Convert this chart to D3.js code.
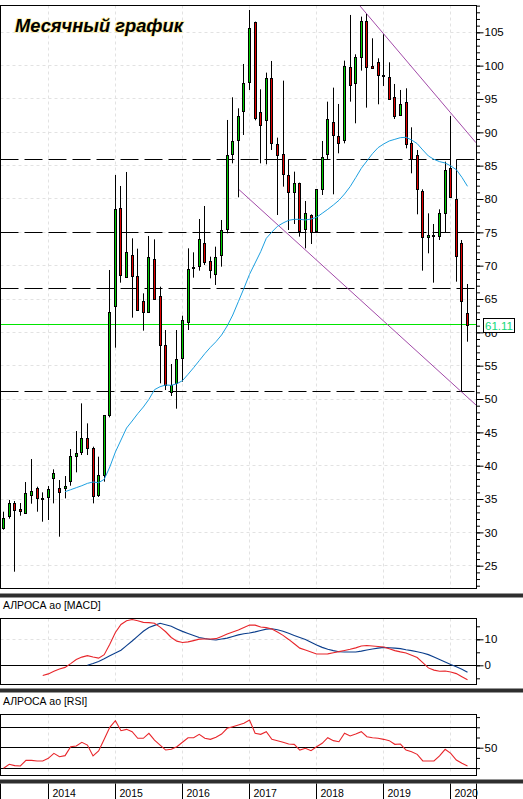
<!DOCTYPE html>
<html><head><meta charset="utf-8">
<script src="https://cdn.jsdelivr.net/npm/d3@7"></script>
<style>
body{margin:0;background:#fff}
svg{display:block}
text{font-family:"Liberation Sans",Arial,sans-serif}
</style>
</head><body>
<svg id="c" width="523" height="799"></svg>
<script>
// ---------- DATA ----------
const firstMonth = [2013, 4];           // May 2013
const yearLabels = ["2014","2015","2016","2017","2018","2019","2020"];
const openP = [30.55,32.35,34.45,33.45,32.95,35.5,36.6,35.15,35.35,38.05,36.6,36.7,37.65,41.35,42.0,44.1,42.65,35.5,38.5,47.5,
  63.95,78.6,68.25,71.55,68.4,64.65,63.0,70.95,65.45,58.05,51.05,52.35,56.1,61.6,69.6,69.85,73.35,70.65,68.7,71.55,
  75.45,86.75,88.85,93.1,97.45,106.5,93.0,91.75,98.1,88.2,86.7,83.6,81.05,82.35,75.45,77.6,75.1,81.45,86.7,91.5,
  89.45,88.85,99.85,97.5,101.35,106.75,99.95,100.5,98.55,98.25,95.25,92.55,94.5,88.35,86.6,81.2,74.25,74.55,74.35,77.85,
  84.6,79.95,73.35,62.95];
const highP = [33.1,34.85,34.7,34.4,37.55,41.0,36.85,36.0,36.95,39.45,37.85,38.45,42.5,45.2,49.35,46.35,42.85,41.35,47.6,69.35,
  83.6,81.95,84.05,74.1,72.55,65.85,74.45,73.95,66.85,60.35,55.25,60.35,62.5,72.6,72.0,77.0,78.95,71.35,72.85,76.85,
  91.85,95.25,93.6,100.25,108.35,106.6,96.45,98.95,100.7,89.2,97.75,85.95,84.1,82.45,79.7,77.7,81.5,88.7,94.6,96.7,
  94.25,100.75,107.6,101.7,107.35,107.75,104.1,101.1,104.7,100.5,97.25,96.35,96.6,90.75,87.35,81.45,77.85,76.25,78.45,85.6,
  92.45,85.95,73.85,67.25];
const lowP = [30.4,32.05,24.1,32.5,32.8,34.3,33.1,31.6,31.85,34.35,29.35,35.1,37.0,39.0,41.6,41.6,34.35,35.3,37.6,47.25,
  57.7,67.45,68.2,62.2,63.2,60.25,62.9,64.9,52.35,51.35,50.45,48.55,52.6,60.35,68.2,69.25,70.1,68.1,67.1,69.85,
  74.85,85.35,80.25,89.6,96.35,91.8,85.35,85.2,87.35,77.6,81.85,75.35,76.25,74.35,72.6,73.25,75.0,80.6,85.85,80.7,
  86.85,88.35,94.6,91.35,99.25,93.7,99.5,94.2,96.95,94.85,92.0,92.5,87.6,83.85,77.7,69.25,71.85,67.45,73.85,74.95,
  80.2,67.6,51.1,58.6];
const closeP = [32.1,34.35,33.45,33.1,35.95,36.15,35.05,35.0,36.55,38.85,36.05,37.0,41.4,41.85,44.1,42.6,35.5,38.55,47.55,63.0,
  78.45,68.5,72.0,68.4,63.3,63.0,71.25,64.95,58.05,52.1,52.1,55.95,61.85,69.5,69.8,73.95,70.5,69.35,71.25,75.35,
  86.6,88.65,92.4,97.35,105.6,92.1,91.0,98.1,88.35,86.55,83.7,81.1,82.35,75.1,77.85,75.0,81.45,86.25,91.95,89.5,
  88.35,99.95,97.2,101.35,106.75,99.85,99.6,98.5,98.35,95.0,92.35,94.2,88.25,85.95,81.45,74.25,74.6,74.65,77.85,84.35,
  80.25,71.35,64.6,61.2];
const maStart = 11;
const maVals = [36.1,36.4,36.7,37.0,37.35,37.55,37.45,37.95,39.8,42.05,43.85,45.65,46.7,47.8,48.8,49.95,51.4,51.85,52.1,52.05,
  52.3,52.75,53.7,54.7,55.75,56.8,57.75,58.6,59.6,60.95,62.6,64.6,66.6,68.7,70.4,72.1,74.1,75.05,75.9,76.4,
  76.8,76.95,76.95,76.85,77.0,77.25,77.85,78.45,79.1,79.8,80.75,81.85,83.2,84.6,85.7,86.8,87.7,88.25,88.7,88.95,
  89.2,89.25,88.85,88.3,87.35,86.45,85.95,85.6,85.4,84.95,84.4,83.25,81.9];
const macdStart = 7;
const macdVals = [-3.9,-3.3,-2.3,-1.4,-0.8,0.65,2.2,3.15,3.7,3.2,2.75,4.1,8.1,12.6,15.7,17.15,17.6,17.15,16.5,16.4,
  16.15,14.7,12.9,10.7,9.3,8.75,9.0,9.5,10.05,10.1,10.1,10.25,11.1,12.0,12.8,13.6,14.55,15.5,15.45,14.7,
  14.5,13.95,12.8,11.5,9.95,8.3,6.6,5.85,5.15,4.35,4.35,4.4,4.85,5.25,5.7,6.15,6.7,7.4,7.6,7.45,
  7.25,7.05,6.35,5.65,5.15,4.7,3.85,3.0,1.0,-1.0,-1.85,-2.3,-2.2,-2.6,-3.2,-4.4,-5.55];
const signalStart = 15;
const signalVals = [0.05,0.7,1.5,2.55,3.7,4.75,5.8,7.55,9.35,11.25,13.1,14.55,15.35,16.15,15.6,15.0,14.0,13.05,12.25,11.45,
  10.7,10.3,9.95,9.75,10.1,10.45,11.1,11.7,12.15,12.45,12.85,13.4,13.9,14.05,13.7,13.1,12.3,11.5,10.7,9.9,
  8.9,7.8,6.9,6.2,5.65,5.2,5.1,5.1,5.1,5.45,5.9,6.3,6.6,6.9,6.75,6.6,6.4,6.0,5.65,5.2,
  4.7,4.1,3.15,2.2,1.25,0.3,-0.55,-1.5,-2.7];
const rsiVals = [29.8,33.7,32.4,32.1,37.6,37.6,37.0,37.0,39.6,44.5,41.2,42.2,51.0,51.7,55.3,52.6,41.9,46.8,58.2,70.0,
  76.5,66.7,68.0,65.7,59.2,59.2,64.1,57.5,52.6,47.7,48.4,51.0,55.3,59.8,59.8,63.1,59.2,58.2,60.2,63.4,
  69.0,70.6,72.3,73.9,77.2,64.1,63.1,65.7,58.2,56.9,55.3,53.6,53.3,47.7,49.4,47.1,51.0,54.3,59.8,56.9,
  55.9,64.1,61.5,63.4,65.7,60.8,59.8,59.2,58.2,56.9,53.3,53.6,47.7,46.1,43.5,37.0,37.0,37.0,41.9,48.4,
  44.5,37.9,34.7,32.1];
const priceTicks = [25,30,35,40,45,50,55,60,65,70,75,80,85,90,95,100,105];
const levelLines = [85.95, 75.0, 66.6, 51.2];
const lastPrice = 61.11;
const trendUpper = [[63.77,108.94],[84.52,88.44]];
const trendLower = [[41.99,81.5],[84.52,49.1]];
const macdTicks = [-5,0,5,10,15], macdLabels = [0,10];
const rsiTicks = [30,40,50,60,70,80], rsiLevels = [30,50,70], rsiLabels = [50];

// ---------- LAYOUT ----------
const svg = d3.select("#c");
const W = 523, FL = 0.5, FR = 476.5;
const P = {t:5.5, b:588.5};
const M = {t:618.5, b:684.5};
const Rr = {t:714.5, b:775.5};
const n = closeP.length;
const months = d3.timeMonth.range(new Date(firstMonth[0], firstMonth[1], 1), new Date(firstMonth[0], firstMonth[1] + n, 1));
const janIdx = d3.range(n).filter(i => months[i].getMonth() === 0);

const x = d3.scaleLinear().domain([0, n - 1]).range([3.6, 467.5]);
const px = i => Math.floor(x(i)) + 0.5;
const yP = d3.scaleLinear().domain([25, 105]).range([565.7, 32.3]);
const yM = d3.scaleLinear().domain([0, 10]).range([665.3, 639.3]);
const yR = d3.scaleLinear().domain([30, 70]).range([768.1, 727.3]);

const GRID = "#e2e2e2";
const defs = svg.append("defs");
function clip(id, t, b) {
  defs.append("clipPath").attr("id", id).append("rect")
    .attr("x", FL).attr("y", t).attr("width", FR - FL).attr("height", b - t);
}
clip("cp", P.t, P.b); clip("cm", M.t, M.b); clip("cr", Rr.t, Rr.b);

svg.append("rect").attr("width", W).attr("height", 799).attr("fill", "#fff");

function vgrid(g, t, b) {
  g.selectAll(null).data(janIdx).join("line")
    .attr("x1", d => px(d)).attr("x2", d => px(d)).attr("y1", t).attr("y2", b)
    .attr("stroke", GRID).attr("stroke-dasharray", "3,3");
}
const crisp = v => Math.round(v - 0.5) + 0.5;

// ---------- PRICE PANEL ----------
const gp = svg.append("g").attr("clip-path", "url(#cp)");
vgrid(gp, P.t, P.b);
gp.selectAll(null).data(priceTicks).join("line")
  .attr("x1", FL).attr("x2", FR).attr("y1", d => crisp(yP(d))).attr("y2", d => crisp(yP(d)))
  .attr("stroke", GRID).attr("stroke-dasharray", "3,3");
gp.selectAll(null).data(levelLines).join("line")
  .attr("x1", FL).attr("x2", FR).attr("y1", d => crisp(yP(d))).attr("y2", d => crisp(yP(d)))
  .attr("stroke", "#000").attr("stroke-dasharray", "18,6");
gp.append("line").attr("x1", FL).attr("x2", FR)
  .attr("y1", crisp(yP(lastPrice))).attr("y2", crisp(yP(lastPrice)))
  .attr("stroke", "#00e600");
const tl = d3.line().x(d => x(d[0])).y(d => yP(d[1]));
[trendUpper, trendLower].forEach(t => gp.append("path").attr("d", tl(t))
  .attr("fill", "none").attr("stroke", "#a24aa8").attr("stroke-width", 1));

const cg = gp.append("g");
d3.range(n).forEach(i => {
  const cx = px(i);
  cg.append("line").attr("x1", cx).attr("x2", cx)
    .attr("y1", yP(highP[i])).attr("y2", yP(lowP[i])).attr("stroke", "#000");
  const yo = yP(openP[i]), yc = yP(closeP[i]);
  const top = Math.round(Math.min(yo, yc)) + 0.5;
  const h = Math.max(Math.round(Math.abs(yo - yc)), 1);
  cg.append("rect").attr("x", cx - 1).attr("width", 2).attr("y", top).attr("height", h)
    .attr("fill", closeP[i] >= openP[i] ? "#00cc00" : "#e00000").attr("stroke", "#000");
});
const maData = maVals.map((v, k) => [maStart + k, v]);
gp.append("path").attr("d", d3.line().x(d => x(d[0])).y(d => yP(d[1]))(maData))
  .attr("fill", "none").attr("stroke", "#1ea0e0").attr("stroke-width", 1);

svg.append("rect").attr("x", FL).attr("y", P.t).attr("width", FR - FL).attr("height", P.b - P.t)
  .attr("fill", "none").attr("stroke", "#000");

// price axis
const axMinor = d3.axisRight(yP).tickValues(d3.range(22, 110)).tickSize(3.5).tickFormat("");
svg.append("g").attr("transform", `translate(${FR},0)`).call(axMinor)
  .call(g => g.select(".domain").remove());
const axMajor = d3.axisRight(yP).tickValues(priceTicks).tickSize(7).tickPadding(1).tickFormat(d3.format("d"));
const gax = svg.append("g").attr("transform", `translate(${FR},0)`).call(axMajor)
  .call(g => g.select(".domain").remove());
gax.selectAll("text").attr("font-size", 11.5).attr("fill", "#000").attr("font-family", "Liberation Sans, Arial, sans-serif");

// last price box
const ly = yP(lastPrice);
svg.append("rect").attr("x", 483.5).attr("y", Math.round(ly - 7) + 0.5).attr("width", 31).attr("height", 14)
  .attr("fill", "#fff").attr("stroke", "#000");
svg.append("text").attr("x", 499).attr("y", ly + 1).attr("dy", "0.35em").attr("text-anchor", "middle")
  .attr("font-size", 11.5).attr("fill", "#12d878").text(d3.format(".2f")(lastPrice));

// title
const title = svg.append("text").attr("x", 15).attr("y", 31.5)
  .attr("font-family", "'Open Sans', 'Noto Sans', sans-serif").attr("font-weight", "bold")
  .attr("font-style", "italic").attr("font-size", 18).attr("fill", "#000")
  .attr("stroke", "#fff0a0").attr("stroke-width", 1.6).attr("paint-order", "stroke")
  .text("Месячный график");
const tw = title.node().getComputedTextLength();
if (tw > 0) title.attr("font-size", 18 * 168 / tw);

// ---------- SEPARATORS ----------
[[593.5, 4], [688.5, 4], [779.5, 4]].forEach(([y, h]) =>
  svg.append("rect").attr("x", 0).attr("y", y).attr("width", W).attr("height", h).attr("fill", "#2e2e2e"));

// ---------- MACD PANEL ----------
svg.append("text").attr("x", 3).attr("y", 608.5).attr("font-size", 10.5).text("АЛРОСА ао [MACD]");
const gm = svg.append("g").attr("clip-path", "url(#cm)");
vgrid(gm, M.t, M.b);
gm.append("line").attr("x1", FL).attr("x2", FR).attr("y1", crisp(yM(10))).attr("y2", crisp(yM(10)))
  .attr("stroke", GRID).attr("stroke-dasharray", "3,3");
gm.append("line").attr("x1", FL).attr("x2", FR).attr("y1", crisp(yM(0))).attr("y2", crisp(yM(0)))
  .attr("stroke", "#000");
const lm = d3.line().x(d => x(d[0])).y(d => yM(d[1]));
gm.append("path").attr("d", lm(signalVals.map((v, k) => [signalStart + k, v])))
  .attr("fill", "none").attr("stroke", "#0b3e8c").attr("stroke-width", 1.1);
gm.append("path").attr("d", lm(macdVals.map((v, k) => [macdStart + k, v])))
  .attr("fill", "none").attr("stroke", "#e8262b").attr("stroke-width", 1.1);
svg.append("rect").attr("x", FL).attr("y", M.t).attr("width", FR - FL).attr("height", M.b - M.t)
  .attr("fill", "none").attr("stroke", "#000");
const gmx = svg.append("g").attr("transform", `translate(${FR},0)`)
  .call(d3.axisRight(yM).tickValues(macdTicks).tickSize(3.5).tickFormat(""))
  .call(g => g.select(".domain").remove());
const gmx2 = svg.append("g").attr("transform", `translate(${FR},0)`)
  .call(d3.axisRight(yM).tickValues(macdLabels).tickSize(7).tickPadding(1).tickFormat(d3.format("d")))
  .call(g => g.select(".domain").remove());
gmx2.selectAll("text").attr("font-size", 11.5).attr("fill", "#000").attr("font-family", "Liberation Sans, Arial, sans-serif");

// ---------- RSI PANEL ----------
svg.append("text").attr("x", 3).attr("y", 704.5).attr("font-size", 10.5).text("АЛРОСА ао [RSI]");
const gr = svg.append("g").attr("clip-path", "url(#cr)");
vgrid(gr, Rr.t, Rr.b);
gr.selectAll(null).data(rsiLevels).join("line")
  .attr("x1", FL).attr("x2", FR).attr("y1", d => crisp(yR(d))).attr("y2", d => crisp(yR(d)))
  .attr("stroke", "#000");
gr.append("path").attr("d", d3.line().x((d, i) => x(i)).y(d => yR(d))(rsiVals))
  .attr("fill", "none").attr("stroke", "#e8262b").attr("stroke-width", 1.1);
svg.append("rect").attr("x", FL).attr("y", Rr.t).attr("width", FR - FL).attr("height", Rr.b - Rr.t)
  .attr("fill", "none").attr("stroke", "#000");
svg.append("g").attr("transform", `translate(${FR},0)`)
  .call(d3.axisRight(yR).tickValues(rsiTicks).tickSize(3.5).tickFormat(""))
  .call(g => g.select(".domain").remove());
const grx = svg.append("g").attr("transform", `translate(${FR},0)`)
  .call(d3.axisRight(yR).tickValues(rsiLabels).tickSize(7).tickPadding(1).tickFormat(d3.format("d")))
  .call(g => g.select(".domain").remove());
grx.selectAll("text").attr("font-size", 11.5).attr("fill", "#000").attr("font-family", "Liberation Sans, Arial, sans-serif");

// ---------- X AXIS ----------
const gx = svg.append("g");
gx.append("line").attr("x1", FL).attr("x2", FL).attr("y1", 783.5).attr("y2", 799).attr("stroke", "#000");
gx.append("line").attr("x1", FR).attr("x2", FR).attr("y1", 783.5).attr("y2", 799).attr("stroke", "#000");
gx.selectAll(null).data(janIdx).join("line")
  .attr("x1", d => px(d)).attr("x2", d => px(d)).attr("y1", 783.5).attr("y2", 799).attr("stroke", "#000");
gx.selectAll(null).data(janIdx).join("text")
  .attr("x", d => px(d) + 4).attr("y", 796.5).attr("font-size", 10.5)
  .text((d, k) => yearLabels[k]);
</script>
</body></html>
